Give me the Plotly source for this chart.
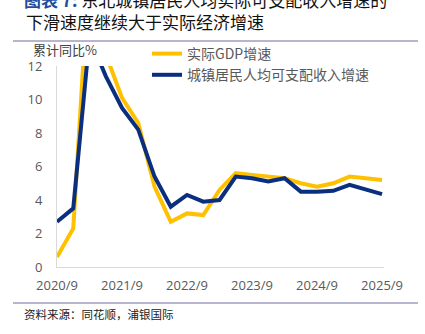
import plotly.graph_objects as go

quarters = ["2020/9", "2020/12", "2021/3", "2021/6", "2021/9", "2021/12",
            "2022/3", "2022/6", "2022/9", "2022/12", "2023/3", "2023/6",
            "2023/9", "2023/12", "2024/3", "2024/6", "2024/9", "2024/12",
            "2025/3", "2025/6", "2025/9"]
gdp = [0.6, 2.3, 18.3, 12.7, 10.1, 8.6, 4.8, 2.7, 3.2, 3.1, 4.6, 5.6,
       5.5, 5.4, 5.3, 5.0, 4.8, 5.0, 5.4, 5.3, 5.2]
income = [2.7, 3.5, 13.7, 11.4, 9.5, 8.2, 5.4, 3.6, 4.3, 3.9, 4.0, 5.4,
          5.3, 5.1, 5.3, 4.5, 4.5, 4.55, 4.9, 4.65, 4.35]
xtick_labels = ["2020/9", "2021/9", "2022/9", "2023/9", "2024/9", "2025/9"]
ytick_vals = [0, 2, 4, 6, 8, 10, 12]

W, H = 425, 334
L, R, T, B = 57, 41, 66, 67
PW, PH = W - L - R, H - T - B


def px(x):
    return (x - L) / PW


def py(y):
    return (H - B - y) / PH


CJK = "Noto Sans CJK SC"
GRAY = "#595959"

fig = go.Figure()
fig.add_trace(go.Scatter(x=quarters, y=gdp, mode="lines", name="实际GDP增速",
                         line=dict(color="#FFC000", width=4)))
fig.add_trace(go.Scatter(x=quarters, y=income, mode="lines", name="城镇居民人均可支配收入增速",
                         line=dict(color="#0A2F7F", width=4)))

fig.update_layout(
    width=W, height=H,
    margin=dict(l=L, r=R, t=T, b=B),
    paper_bgcolor="white", plot_bgcolor="white",
    showlegend=True,
    legend=dict(x=px(147), y=py(38), xanchor="left", yanchor="top",
                bgcolor="rgba(0,0,0,0)", font=dict(family=CJK, size=14, color=GRAY),
                tracegroupgap=0),
    xaxis=dict(type="category", range=[0, 20.12], tickvals=xtick_labels,
               ticktext=xtick_labels, showgrid=False, zeroline=False,
               showline=True, linecolor="#D9D9D9", linewidth=1,
               ticks="outside", ticklen=6, tickcolor="rgba(0,0,0,0)",
               tickfont=dict(family="Open Sans", size=13, color=GRAY)),
    yaxis=dict(range=[0, 12], tickvals=ytick_vals, showgrid=False, zeroline=False,
               showline=True, linecolor="#D9D9D9", linewidth=1,
               ticks="outside", ticklen=11, tickcolor="rgba(0,0,0,0)",
               tickfont=dict(family="Open Sans", size=13, color=GRAY)),
)

annotations = [
    dict(text="<b><span style='color:#1F4E9F'>图表 7:</span></b> 东北城镇居民人均实际可支配收入增速的",
         x=px(22), y=py(0), xanchor="left", yanchor="middle",
         font=dict(family=CJK, size=17, color="#111111")),
    dict(text="下滑速度继续大于实际经济增速",
         x=px(24), y=py(21), xanchor="left", yanchor="middle",
         font=dict(family=CJK, size=17, color="#111111")),
    dict(text="累计同比%", x=px(31), y=py(50), xanchor="left", yanchor="middle",
         font=dict(family=CJK, size=13, color="#404040")),
    dict(text="资料来源：同花顺，浦银国际", x=px(22), y=py(314), xanchor="left",
         yanchor="middle", font=dict(family=CJK, size=11.5, color="#222222")),
]
for a in annotations:
    a.update(xref="paper", yref="paper", showarrow=False)
fig.update_layout(annotations=annotations)

for yy in (41, 303):
    fig.add_shape(type="line", xref="paper", yref="paper",
                  x0=px(13), x1=px(418), y0=py(yy), y1=py(yy),
                  line=dict(color="#6E6B9E", width=1))

fig.write_html("out.html")
